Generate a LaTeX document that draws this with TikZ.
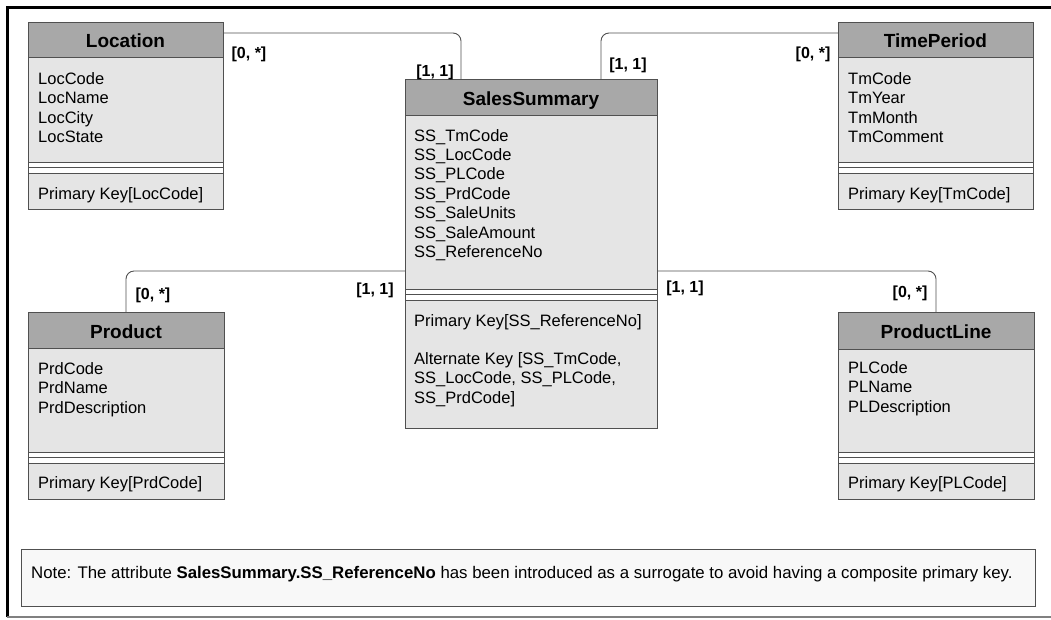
\documentclass[tikz,border=0pt]{standalone}
\usepackage{fontspec}
\setmainfont{Liberation Sans}
\usetikzlibrary{calc,fit}
\definecolor{hdrfill}{HTML}{A8A8A8}
\definecolor{bodyfill}{HTML}{E5E5E5}
\definecolor{edgegray}{HTML}{505050}
\definecolor{notefill}{HTML}{F8F8F8}
\tikzset{
  boxframe/.style={draw=edgegray, line width=1pt, inner sep=0pt, outer sep=0pt},
  sepline/.style={draw=edgegray, line width=0.9pt},
  titletext/.style={font=\fontsize{19}{21}\selectfont\bfseries, anchor=base, inner sep=0pt},
  attr/.style={font=\fontsize{16.5}{19.5}\selectfont, anchor=base west, inner sep=0pt},
  notestyle/.style={font=\fontsize{16.8}{19.5}\selectfont, anchor=base west, inner sep=0pt},
  mult/.style={font=\fontsize{16}{18}\selectfont\bfseries, anchor=base, inner sep=0pt},
  conn/.style={draw=edgegray, line width=0.9pt, rounded corners=8pt},
}
% #1 name, #2 x0, #3 y0, #4 x1, #5 y1, #6 header bottom, #7 separator top, #8 title
\newcommand{\erbox}[8]{%
  \fill[bodyfill] (#2,#3) rectangle (#4,#5);
  \fill[hdrfill] (#2,#3) rectangle (#4,#6);
  \fill[white] (#2,#7) rectangle (#4,#7+11);
  \draw[sepline] (#2,#6) -- (#4,#6);
  \draw[sepline] (#2,#7) -- (#4,#7);
  \draw[sepline] (#2,#7+5.5) -- (#4,#7+5.5);
  \draw[sepline] (#2,#7+11) -- (#4,#7+11);
  \node[boxframe, fit={(#2,#3) (#4,#5)}] (#1) {};
  \node[titletext] (#1-title) at ({(#2+#4)/2},{(#3+#6)/2+8}) {#8};
}
\begin{document}
\begin{tikzpicture}[x=1pt,y=-1pt]
\useasboundingbox (0,0) rectangle (1051,619);
% outer frame
\draw[line width=3pt, black] (7,617) -- (7,7) -- (1051,7);
\draw[line width=1.5pt, gray] (7,617) -- (1051,617);

% entities
\erbox{loc}{28}{22}{223}{209}{57}{162}{Location}
\erbox{tp}{838}{22}{1033}{209}{57}{162}{TimePeriod}
\erbox{ss}{405}{79}{657}{428}{115}{289}{SalesSummary}
\erbox{prd}{28}{312}{224}{499}{348}{452}{Product}
\erbox{pl}{838}{312}{1034}{499}{349}{452}{ProductLine}

% attributes
\foreach \t [count=\i from 0] in {LocCode,LocName,LocCity,LocState}
  \node[attr] (loc-a\i) at (38,84+19.5*\i) {\t};
\node[attr] (loc-pk) at (38,199) {Primary Key[LocCode]};

\foreach \t [count=\i from 0] in {TmCode,TmYear,TmMonth,TmComment}
  \node[attr] (tp-a\i) at (848,84+19.5*\i) {\t};
\node[attr] (tp-pk) at (848,199) {Primary Key[TmCode]};

\foreach \t [count=\i from 0] in {SS\_TmCode,SS\_LocCode,SS\_PLCode,SS\_PrdCode,SS\_SaleUnits,SS\_SaleAmount,SS\_ReferenceNo}
  \node[attr] (ss-a\i) at (414,141+19.4*\i) {\t};
\node[attr] (ss-pk) at (414,326) {Primary Key[SS\_ReferenceNo]};
\node[attr] (ss-ak1) at (414,364) {Alternate Key [SS\_TmCode,};
\node[attr] (ss-ak2) at (414,383.5) {SS\_LocCode, SS\_PLCode,};
\node[attr] (ss-ak3) at (414,403) {SS\_PrdCode]};

\foreach \t [count=\i from 0] in {PrdCode,PrdName,PrdDescription}
  \node[attr] (prd-a\i) at (38,374+19.5*\i) {\t};
\node[attr] (prd-pk) at (38,488) {Primary Key[PrdCode]};

\foreach \t [count=\i from 0] in {PLCode,PLName,PLDescription}
  \node[attr] (pl-a\i) at (848,373+19.5*\i) {\t};
\node[attr] (pl-pk) at (848,488) {Primary Key[PLCode]};

% connectors
\draw[conn] ($(loc.north east)+(0,11)$) -| ($(ss.north west)+(56,0)$);
\draw[conn] ($(ss.north west)+(196,0)$) |- ($(tp.north west)+(0,11)$);
\draw[conn] ($(prd.north west)+(98,0)$) |- ($(ss.north west)+(0,192)$);
\draw[conn] ($(ss.north east)+(0,192)$) -| ($(pl.north west)+(98,0)$);

% multiplicities
\node[mult] (m1) at (249,58) {[0, *]};
\node[mult] (m2) at (435,76) {[1, 1]};
\node[mult] (m3) at (628,69) {[1, 1]};
\node[mult] (m4) at (813,58) {[0, *]};
\node[mult] (m5) at (153,299) {[0, *]};
\node[mult] (m6) at (375,294) {[1, 1]};
\node[mult] (m7) at (685,292) {[1, 1]};
\node[mult] (m8) at (910,297) {[0, *]};

% note
\node[boxframe, fill=notefill, fit={(21,549) (1035,606)}] (note) {};
\node[notestyle] (notetext) at (31,578) {Note: The attribute \textbf{SalesSummary.SS\_ReferenceNo} has been introduced as a surrogate to avoid having a composite primary key.};
\end{tikzpicture}
\end{document}
